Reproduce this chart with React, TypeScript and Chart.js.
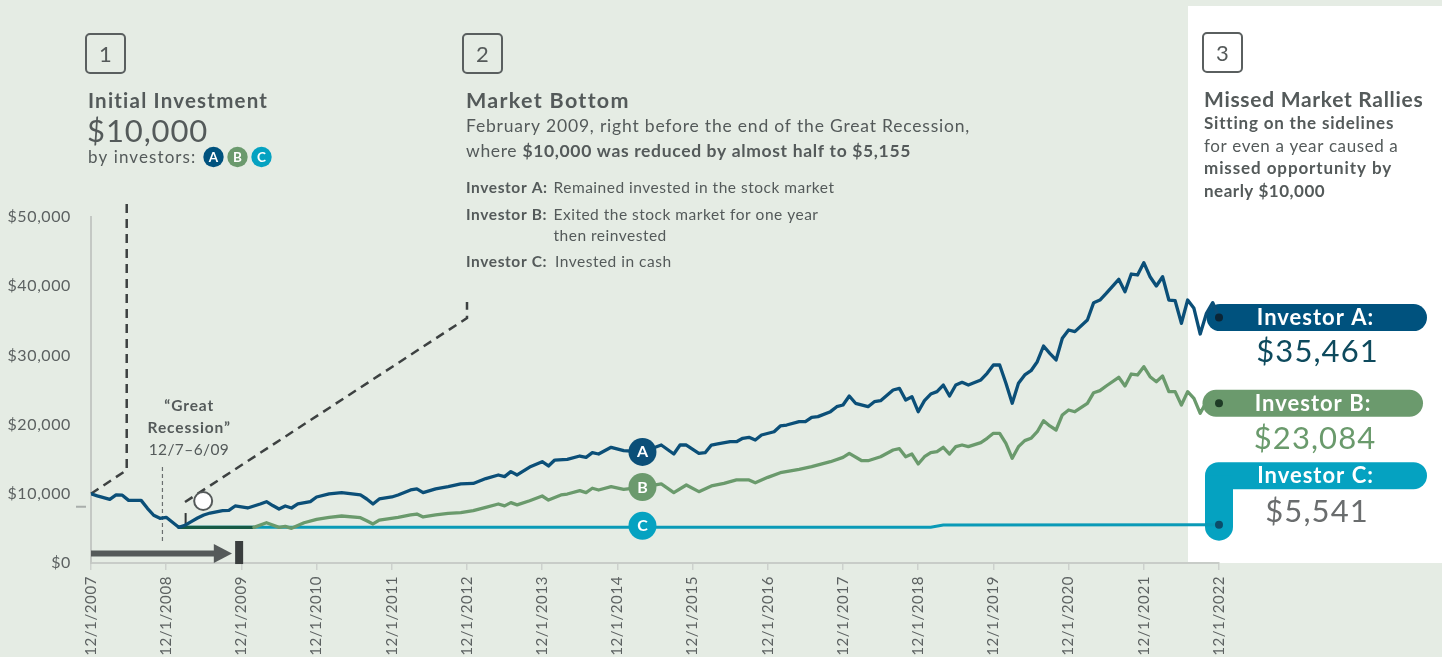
import { useEffect, useRef } from 'react';
import { Chart, registerables } from 'chart.js';

Chart.register(...registerables);

// ---------- data ----------
const xTickLabels = [
  '12/1/2007', '12/1/2008', '12/1/2009', '12/1/2010', '12/1/2011', '12/1/2012', '12/1/2013', '12/1/2014',
  '12/1/2015', '12/1/2016', '12/1/2017', '12/1/2018', '12/1/2019', '12/1/2020', '12/1/2021', '12/1/2022',
];

// months since 12/1/2007
const monthsA = [
  0, 1, 3, 4, 5, 6, 8, 9, 10, 11, 12, 14, 15, 16, 17, 18, 19, 21, 22, 23, 25, 27, 28, 29, 30, 31, 32, 33, 35, 36,
  38, 40, 43, 44, 45, 46, 48, 49, 51, 52, 53, 55, 57, 59, 61, 63, 65, 66, 67, 68, 70, 72, 73, 74, 76, 78, 79, 80,
  81, 83, 85, 88, 91, 93, 94, 95, 97, 98, 99, 100, 102, 103, 104, 105, 106, 107, 109, 110, 111, 113, 114, 115,
  116, 118, 119, 120, 121, 122, 124, 125, 126, 128, 129, 130, 131, 132, 133, 134, 135, 136, 137, 138, 139, 140,
  142, 143, 144, 145, 146, 147, 148, 149, 150, 151, 152, 153, 154, 155, 156, 157, 159, 160, 161, 162, 164, 165,
  166, 167, 168, 169, 170, 171, 172, 173, 174, 175, 176, 177, 178, 179, 180,
];
const valuesA = [
  10000, 9700, 9200, 9830, 9800, 9050, 9050, 7900, 6900, 6460, 6600, 5155, 5450, 5970, 6500, 6940, 7220, 7560,
  7600, 8240, 7950, 8530, 8860, 8300, 7800, 8240, 7950, 8530, 8860, 9540, 10000, 10160, 9830, 9250, 8530, 9250,
  9540, 9830, 10550, 10700, 10160, 10700, 11030, 11420, 11500, 12200, 12720, 12480, 13200, 12720, 13870, 14640,
  14020, 14880, 14980, 15460, 15270, 15940, 15750, 16720, 16230, 16050, 17050, 15750, 17050, 17050, 15850, 15940,
  17050, 17200, 17530, 17530, 18020, 18160, 17770, 18500, 18970, 19800, 19940, 20420, 20420, 21050, 21150, 21870,
  22590, 22830, 24130, 23080, 22590, 23310, 23460, 25000, 25240, 23550, 24030, 21860, 23460, 24420, 24760, 25720,
  24130, 25720, 26110, 25720, 26450, 27410, 28610, 28610, 25970, 23080, 25970, 27170, 27790, 29090, 31360, 30300,
  29340, 32470, 33670, 33430, 35120, 37620, 38000, 38970, 41000, 39210, 41760, 41620, 43400, 41370, 40030, 41370,
  38000, 37900, 34640, 38000, 36800, 33090, 36080, 37620, 35461,
];

const monthsB = [
  14, 26, 28, 30, 31, 32, 34, 36, 38, 40, 43, 44, 45, 46, 49, 51, 52, 53, 55, 57, 59, 61, 63, 65, 66, 67, 68, 70,
  72, 73, 75, 76, 78, 79, 80, 81, 83, 85, 88, 91, 93, 95, 97, 99, 101, 103, 105, 106, 108, 110, 113, 115, 118, 120,
  121, 123, 124, 126, 128, 129, 130, 131, 132, 133, 134, 135, 136, 137, 138, 139, 140, 142, 143, 144, 145, 146,
  147, 148, 149, 150, 151, 152, 153, 154, 155, 156, 157, 159, 160, 161, 162, 164, 165, 166, 167, 168, 169, 170,
  171, 172, 173, 174, 175, 176, 177, 178, 179, 180,
];
const valuesB = [
  5155, 5155, 5820, 5150, 5300, 5010, 5820, 6310, 6600, 6790, 6550, 6110, 5640, 6210, 6600, 6940, 7080, 6650, 6940,
  7180, 7270, 7560, 8050, 8530, 8250, 8730, 8400, 9000, 9680, 9100, 9830, 9970, 10450, 10160, 10800, 10550, 11030,
  10650, 10980, 11420, 10160, 11270, 10310, 11130, 11520, 12000, 12000, 11600, 12380, 13050, 13540, 13920, 14640,
  15270, 15850, 14780, 14780, 15360, 16330, 16520, 15360, 15750, 14310, 15360, 15940, 16090, 16720, 15750, 16810,
  17050, 16810, 17390, 18020, 18740, 18740, 17300, 15130, 16810, 17680, 18020, 18970, 20560, 19800, 19220, 21390,
  22110, 21860, 23080, 24610, 24900, 25580, 26830, 25580, 27310, 27170, 28370, 26920, 26200, 27020, 24760, 24760,
  22830, 24760, 23800, 21630, 23310, 24610, 23084,
];

const monthsC = [14, 134, 136, 180];
const valuesC = [5155, 5155, 5480, 5541];

const seriesLetters = ['A', 'B', 'C'];
const endTitles = ['Investor A:', 'Investor B:', 'Investor C:'];
const endValues = ['$35,461', '$23,084', '$5,541'];

// ---------- styles ----------
const BG = '#e5ece4';
const COL_A = '#0b4f78';
const COL_B = '#6a9a6c';
const COL_B_DARK = '#165a44';
const COL_C = '#0a9ab7';
const PILL_A = '#00527e';
const PILL_B = '#6b9a6d';
const PILL_C = '#05a2c1';
const TXT = '#545a5a';
const FONT = 'Lato, "Noto Sans", sans-serif';

function font(size: number, weight: number | string = 400) {
  return `${weight} ${size}px ${FONT}`;
}

function text(
  ctx: CanvasRenderingContext2D,
  s: string,
  x: number,
  y: number,
  size: number,
  weight: number | string,
  color: string,
  align: CanvasTextAlign = 'left',
  ls = 0,
) {
  ctx.font = font(size, weight);
  (ctx as any).letterSpacing = `${ls}px`;
  ctx.fillStyle = color;
  ctx.textAlign = align;
  ctx.textBaseline = 'alphabetic';
  // centre correction for trailing letter spacing
  const dx = align === 'center' ? ls / 2 : 0;
  ctx.fillText(s, x + dx, y);
}

function richLine(ctx: CanvasRenderingContext2D, parts: [string, number][], x: number, y: number, size: number, color: string, ls = 0) {
  let cx = x;
  ctx.textAlign = 'left';
  ctx.textBaseline = 'alphabetic';
  ctx.fillStyle = color;
  (ctx as any).letterSpacing = `${ls}px`;
  for (const [s, w] of parts) {
    ctx.font = font(size, w);
    ctx.fillText(s, cx, y);
    cx += ctx.measureText(s).width;
  }
}

function numBox(ctx: CanvasRenderingContext2D, label: string, x: number, y: number) {
  ctx.beginPath();
  ctx.roundRect(x, y, 39, 39, 4);
  ctx.lineWidth = 2;
  ctx.strokeStyle = '#5a5f5f';
  ctx.stroke();
  text(ctx, label, x + 19.5, y + 28, 22, 400, '#555a5a', 'center');
}

function yAt(chart: any, dsIndex: number, month: number) {
  const meta = chart.getDatasetMeta(dsIndex);
  const pts = meta.data;
  const raw = chart.data.datasets[dsIndex].data as { x: number; y: number }[];
  for (let i = 0; i < raw.length - 1; i++) {
    if (raw[i].x <= month && raw[i + 1].x >= month) {
      const t = (month - raw[i].x) / (raw[i + 1].x - raw[i].x || 1);
      return pts[i].y + (pts[i + 1].y - pts[i].y) * t;
    }
  }
  return pts[pts.length - 1].y;
}

const decor = {
  id: 'decor',
  beforeDraw(chart: any) {
    const { ctx, width, chartArea } = chart;
    ctx.save();
    ctx.fillStyle = BG;
    ctx.fillRect(0, 0, width, chart.height);
    ctx.fillStyle = '#ffffff';
    const left = chartArea.right - 31;
    ctx.fillRect(left, 6, width - left, chartArea.bottom - 6);
    ctx.restore();
    // spacing for axis tick labels
    (ctx as any).letterSpacing = '0.6px';
  },
  beforeDatasetsDraw(chart: any) {
    const { ctx, chartArea } = chart;
    const xs = chart.scales.x;
    const ys = chart.scales.y;
    const X = (m: number) => xs.getPixelForValue(m);
    const Y = (v: number) => ys.getPixelForValue(v);
    ctx.save();

    // dashed callout lines
    ctx.strokeStyle = '#3d4141';
    ctx.lineWidth = 2.5;
    ctx.setLineDash([9, 6]);
    ctx.beginPath();
    ctx.moveTo(X(0), Y(10000));
    ctx.lineTo(X(5.7), Y(13440));
    ctx.lineTo(X(5.7), Y(51900));
    ctx.stroke();

    ctx.beginPath();
    ctx.moveTo(X(15.0), Y(8815));
    ctx.lineTo(X(60), Y(35400));
    ctx.lineTo(X(60), Y(37720));
    ctx.stroke();

    // recession marker
    ctx.setLineDash([4, 3]);
    ctx.lineWidth = 1.2;
    ctx.strokeStyle = '#6a6f6f';
    const rx = X(11.4);
    ctx.beginPath();
    ctx.moveTo(rx, Y(13870));
    ctx.lineTo(rx, Y(3030));
    ctx.stroke();
    ctx.setLineDash([]);

    const tcx = X(15.6);
    text(ctx, '\u201CGreat', tcx, Y(21900), 15.5, 700, TXT, 'center', 0.9);
    text(ctx, 'Recession\u201D', tcx, Y(18780), 15.5, 700, TXT, 'center', 0.9);
    text(ctx, '12/7\u20136/09', tcx, Y(15610), 15.5, 400, TXT, 'center', 0.4);

    // short solid tick at market bottom
    ctx.strokeStyle = '#333737';
    ctx.lineWidth = 2;
    ctx.beginPath();
    ctx.moveTo(X(15.1), Y(5640));
    ctx.lineTo(X(15.1), Y(7220));
    ctx.stroke();

    // grey mark on y axis
    ctx.strokeStyle = '#a9aeab';
    ctx.lineWidth = 2;
    ctx.beginPath();
    ctx.moveTo(chartArea.left - 15, Y(8130));
    ctx.lineTo(chartArea.left - 5, Y(8130));
    ctx.stroke();

    // arrow
    const ay = Y(1370);
    ctx.strokeStyle = '#555a5a';
    ctx.lineWidth = 6;
    ctx.beginPath();
    ctx.moveTo(X(0), ay);
    ctx.lineTo(X(20), ay);
    ctx.stroke();
    ctx.fillStyle = '#555a5a';
    ctx.beginPath();
    ctx.moveTo(X(19.6), ay - 9.5);
    ctx.lineTo(X(22.5), ay);
    ctx.lineTo(X(19.6), ay + 9.5);
    ctx.closePath();
    ctx.fill();
    ctx.fillStyle = '#3a3e3e';
    ctx.fillRect(X(23.0), Y(3180), 8, Y(-150) - Y(3180));

    // end pills
    const R = chartArea.right;
    const eyA = yAt(chart, 0, 180);
    const eyB = yAt(chart, 1, 180);
    const eyC = yAt(chart, 2, 180);
    ctx.fillStyle = PILL_A;
    ctx.beginPath();
    ctx.roundRect(R - 12.5, eyA - 13.5, 220.5, 27, 13.5);
    ctx.fill();
    ctx.fillStyle = PILL_B;
    ctx.beginPath();
    ctx.roundRect(R - 16.5, eyB - 13.5, 220.5, 27, 13.5);
    ctx.fill();
    const pc = eyC - 49;
    ctx.fillStyle = PILL_C;
    ctx.beginPath();
    ctx.roundRect(R - 14, pc - 13.5, 222, 27, 13.5);
    ctx.fill();
    ctx.beginPath();
    ctx.roundRect(R - 14, pc, 28, eyC + 16 - pc, [0, 0, 14, 14]);
    ctx.fill();

    text(ctx, endTitles[0], R + 96, eyA + 7, 22, 700, '#ffffff', 'center', 1.0);
    text(ctx, endTitles[1], R + 93.5, eyB + 7.5, 22, 700, '#ffffff', 'center', 1.0);
    text(ctx, endTitles[2], R + 96, pc + 7, 22, 700, '#ffffff', 'center', 1.0);
    text(ctx, endValues[0], R + 98, eyA + 44, 31, 400, '#0e4a5d', 'center', 1.1);
    text(ctx, endValues[1], R + 95.5, eyB + 46, 31, 400, '#6a9a6c', 'center', 1.1);
    text(ctx, endValues[2], R + 97.5, pc + 46, 31, 400, '#6a6d6e', 'center', 1.1);
    ctx.restore();
  },
  afterDatasetsDraw(chart: any) {
    const { ctx } = chart;
    const xs = chart.scales.x;
    const ys = chart.scales.y;
    ctx.save();
    // end dots
    const dotCols = ['#0a2536', '#1d3b26', '#0b4d6a'];
    for (let i = 0; i < 3; i++) {
      const meta = chart.getDatasetMeta(i);
      const p = meta.data[meta.data.length - 1];
      ctx.fillStyle = dotCols[i];
      ctx.beginPath();
      ctx.arc(p.x, p.y, 4, 0, Math.PI * 2);
      ctx.fill();
    }
    // letter markers on the lines
    const mCols = [COL_A, PILL_B, PILL_C];
    const mx = xs.getPixelForValue(88);
    for (let i = 0; i < 3; i++) {
      const my = yAt(chart, i, 88) - (i === 2 ? 1.5 : 0);
      ctx.fillStyle = mCols[i];
      ctx.beginPath();
      ctx.arc(mx, my, 14, 0, Math.PI * 2);
      ctx.fill();
      text(ctx, seriesLetters[i], mx, my + 5.5, 16, 700, '#ffffff', 'center');
    }
    // white circle marker near market bottom
    const wx = xs.getPixelForValue(17.9);
    const wy = ys.getPixelForValue(8960);
    ctx.fillStyle = '#ffffff';
    ctx.strokeStyle = '#555a5a';
    ctx.lineWidth = 2;
    ctx.beginPath();
    ctx.arc(wx, wy, 9, 0, Math.PI * 2);
    ctx.fill();
    ctx.stroke();
    ctx.restore();
  },
  afterDraw(chart: any) {
    const { ctx } = chart;
    ctx.save();
    // Section 1
    numBox(ctx, '1', 86, 34);
    text(ctx, 'Initial Investment', 88, 108.3, 20.5, 700, TXT, 'left', 1.2);
    text(ctx, '$10,000', 87, 141.7, 31, 400, TXT, 'left', 0.9);
    text(ctx, 'by investors:', 88, 163, 17, 400, TXT, 'left', 1.1);
    const cxs = [213.5, 237.5, 261.5];
    const cc = [PILL_A, PILL_B, PILL_C];
    for (let i = 0; i < 3; i++) {
      ctx.fillStyle = cc[i];
      ctx.beginPath();
      ctx.arc(cxs[i], 157, 10.2, 0, Math.PI * 2);
      ctx.fill();
      text(ctx, seriesLetters[i], cxs[i], 162, 13.5, 700, '#ffffff', 'center');
    }

    // Section 2
    numBox(ctx, '2', 463, 34);
    text(ctx, 'Market Bottom', 466, 108.3, 21.5, 700, TXT, 'left', 1.3);
    text(ctx, 'February 2009, right before the end of the Great Recession,', 466, 132.3, 17.5, 400, TXT, 'left', 0.8);
    richLine(ctx, [['where ', 400], ['$10,000 was reduced by almost half to $5,155', 700]], 466, 156.7, 17.5, TXT, 0.65);
    text(ctx, 'Investor A:', 466, 192.7, 15.5, 700, TXT, 'left', 0.6);
    text(ctx, 'Remained invested in the stock market', 553.5, 192.7, 15.5, 400, TXT, 'left', 0.5);
    text(ctx, 'Investor B:', 466, 220, 15.5, 700, TXT, 'left', 0.6);
    text(ctx, 'Exited the stock market for one year', 553.5, 220, 15.5, 400, TXT, 'left', 0.5);
    text(ctx, 'then reinvested', 553.5, 240.7, 15.5, 400, TXT, 'left', 0.5);
    text(ctx, 'Investor C:', 466, 266.7, 15.5, 700, TXT, 'left', 0.6);
    text(ctx, 'Invested in cash', 555, 266.7, 15.5, 400, TXT, 'left', 0.5);

    // Section 3
    numBox(ctx, '3', 1203, 33);
    text(ctx, 'Missed Market Rallies', 1204, 107, 21, 700, TXT, 'left', 0.7);
    text(ctx, 'Sitting on the sidelines', 1204, 129, 17, 700, TXT, 'left', 0.8);
    text(ctx, 'for even a year caused a', 1204, 151.5, 17, 400, TXT, 'left', 0.6);
    text(ctx, 'missed opportunity by', 1204, 174, 17, 700, TXT, 'left', 0.9);
    text(ctx, 'nearly $10,000', 1204, 196.5, 17, 700, TXT, 'left', 0.5);
    ctx.restore();
  },
};

export default function App() {
  const ref = useRef<HTMLCanvasElement | null>(null);

  useEffect(() => {
    if (!ref.current) return;
    Chart.defaults.font.family = FONT;
    const toPts = (ms: number[], vs: number[]) => ms.map((m, i) => ({ x: m, y: vs[i] }));
    const chart = new Chart(ref.current, {
      type: 'line',
      data: {
        datasets: [
          {
            label: 'Investor A',
            data: toPts(monthsA, valuesA),
            borderColor: COL_A,
            borderWidth: 3.3,
            pointRadius: 0,
            tension: 0,
            borderJoinStyle: 'round',
            borderCapStyle: 'round',
          },
          {
            label: 'Investor B',
            data: toPts(monthsB, valuesB),
            borderColor: COL_B,
            borderWidth: 3.3,
            pointRadius: 0,
            tension: 0,
            borderJoinStyle: 'round',
            borderCapStyle: 'round',
            segment: {
              borderColor: (c: any) => (c.p0.parsed.x < 26 ? COL_B_DARK : COL_B),
            },
          },
          {
            label: 'Investor C',
            data: toPts(monthsC, valuesC),
            borderColor: COL_C,
            borderWidth: 3,
            pointRadius: 0,
            tension: 0,
          },
        ],
      } as any,
      options: {
        responsive: false,
        animation: false,
        devicePixelRatio: 1,
        layout: { padding: { left: 0, top: 217, right: 223, bottom: 0 } },
        plugins: { legend: { display: false }, tooltip: { enabled: false } },
        events: [],
        scales: {
          x: {
            type: 'linear',
            min: 0,
            max: 180,
            afterFit: (s: any) => {
              s.height = 94;
            },
            afterBuildTicks: (s: any) => {
              s.ticks = xTickLabels.map((_, i) => ({ value: i * 12 }));
            },
            ticks: {
              autoSkip: false,
              minRotation: 90,
              maxRotation: 90,
              padding: 6,
              color: '#5c6161',
              font: { size: 15, family: FONT },
              callback: (v: any) => xTickLabels[Math.round(Number(v) / 12)] ?? '',
            },
            grid: { display: true, drawOnChartArea: false, drawTicks: true, tickLength: 7, color: '#cdd1cd', lineWidth: 1.5 },
            border: { display: true, color: '#c8ccc8', width: 2 },
          },
          y: {
            min: 0,
            max: 50000,
            afterFit: (s: any) => {
              s.width = 91;
            },
            ticks: {
              stepSize: 10000,
              padding: 20,
              color: '#5c6161',
              font: { size: 16, family: FONT },
              callback: (v: any) => '$' + Number(v).toLocaleString('en-US'),
            },
            grid: { display: false, drawTicks: false },
            border: { display: true, color: '#c4c8c4', width: 2 },
          },
        },
      } as any,
      plugins: [decor],
    });
    return () => chart.destroy();
  }, []);

  return (
    <div style={{ position: 'fixed', left: 0, top: 0, width: 1442, height: 657, background: BG }}>
      <canvas ref={ref} width={1442} height={657} style={{ display: 'block', width: 1442, height: 657 }} />
    </div>
  );
}
